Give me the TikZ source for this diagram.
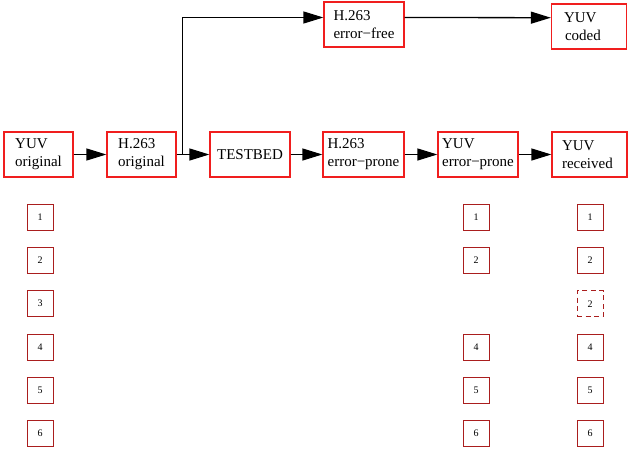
\documentclass[tikz,border=0pt]{standalone}
\usepackage{fontspec}
\setmainfont{Liberation Serif}
\usetikzlibrary{arrows.meta}
\definecolor{boxred}{RGB}{240,30,30}
\definecolor{smallred}{RGB}{170,30,30}
\tikzset{
  bigbox/.style={draw=boxred, line width=1.3pt, minimum height=45pt, align=left, inner sep=2pt,
    font=\fontsize{15}{18}\selectfont},
  smallbox/.style={draw=smallred, line width=0.9pt, minimum width=26pt, minimum height=26pt, inner sep=0pt,
    font=\fontsize{10}{11}\selectfont},
  lostbox/.style={smallbox, dashed, dash pattern=on 5pt off 3.5pt},
  conn/.style={draw=black, line width=1.3pt, -{Triangle[length=20pt,width=12pt]}},
}
\begin{document}
\begin{tikzpicture}[x=1pt,y=-1pt]
\useasboundingbox (0,0) rectangle (628,452);
% main row
\node[bigbox, minimum width=69pt] (yo) at (38.5,154.5) {YUV\\original};
\node[bigbox, minimum width=69pt] (ho) at (141.5,154.5) {H.263\\original};
\node[bigbox, minimum width=80pt] (tb) at (250,154.5) {TESTBED};
\node[bigbox, minimum width=81pt] (hep) at (363.5,154.5) {H.263\\error\textminus prone};
\node[bigbox, minimum width=80pt] (yep) at (478,154.5) {YUV\\error\textminus prone};
\node[bigbox, minimum width=75pt, text width=55pt] (yr) at (589.5,154.5) {YUV\\received};
% top row
\node[bigbox, minimum width=80pt] (hef) at (364,24.5) {H.263\\error\textminus free};
\node[bigbox, minimum width=75pt, text width=50pt] (yc) at (589,26.5) {YUV\\\hspace*{1pt}coded};
% connectors
\draw[conn] (yo) -- (ho);
\draw[conn] (ho) -- (tb);
\coordinate (br) at (182.5,154.5);
\draw[conn] (br) |- ([yshift=7pt]hef.west);
\draw[conn] (tb) -- (hep);
\draw[conn] (hep) -- (yep);
\draw[conn] (yep) -- (yr);
\draw[conn] ([yshift=7pt]hef.east) -- ([yshift=8.8pt]yc.west);
% packet columns
\foreach \i/\y in {1/217,2/260.3,3/303.7,4/347,5/390.3,6/433.7}{
  \node[smallbox] (a\i) at (40,\y) {\i};
}
\foreach \i/\y in {1/217,2/260.3,4/347,5/390.3,6/433.7}{
  \node[smallbox] (b\i) at (476,\y) {\i};
  \node[smallbox] (c\i) at (590,\y) {\i};
}
\node[lostbox] (c3) at (590,303.7) {2};
\end{tikzpicture}
\end{document}
